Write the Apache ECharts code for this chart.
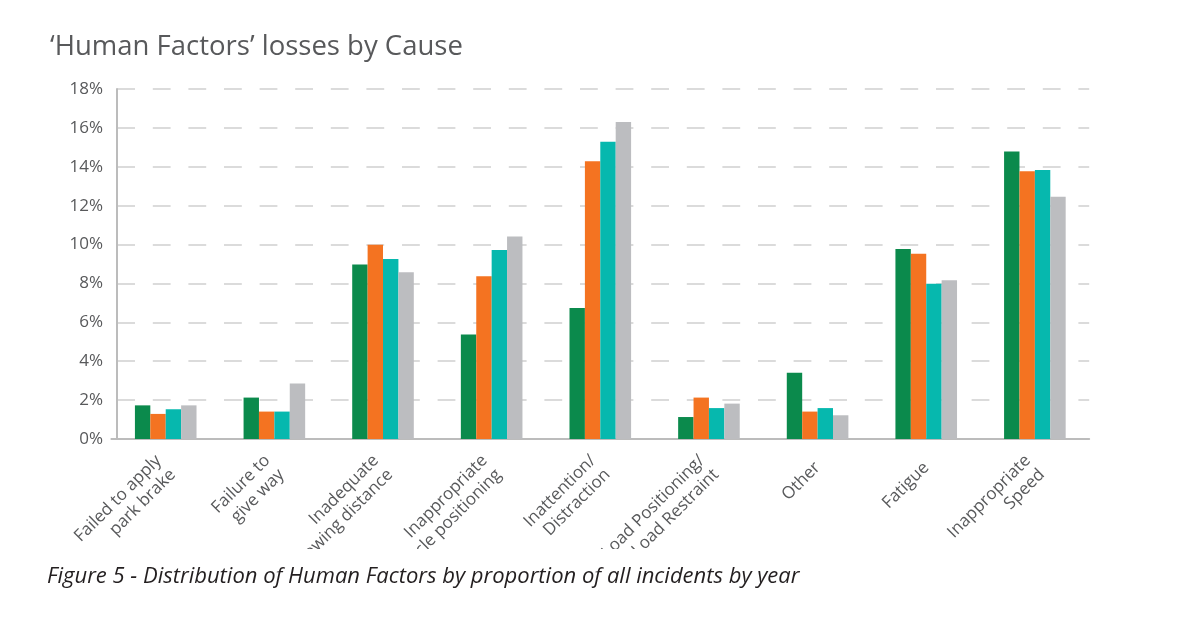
<!DOCTYPE html>
<html>
<head>
<meta charset="utf-8">
<script src="https://cdn.jsdelivr.net/npm/echarts@6/dist/echarts.min.js"></script>
<style>
  html, body { margin: 0; padding: 0; background: #ffffff; }
  #chart { width: 1200px; height: 624px; }
</style>
</head>
<body>
<div id="chart"></div>
<script>
// ---- Data ----
const categories = [
  'Failed to apply\npark brake',
  'Failure to\ngive way',
  'Inadequate\nfollowing distance',
  'Inappropriate\nvehicle positioning',
  'Inattention/\nDistraction',
  'Load Positioning/\nLoad Restraint',
  'Other',
  'Fatigue',
  'Inappropriate\nSpeed'
];
const seriesGreen  = [1.73, 2.13, 8.97, 5.38, 6.74, 1.13, 3.41, 9.77, 14.79];
const seriesOrange = [1.29, 1.41, 9.99, 8.37, 14.28, 2.13, 1.41, 9.53, 13.77];
const seriesTeal   = [1.53, 1.41, 9.26, 9.72, 15.29, 1.59, 1.59, 7.99, 13.83];
const seriesGrey   = [1.73, 2.85, 8.57, 10.42, 16.30, 1.82, 1.22, 8.16, 12.46];
const yTicks = { min: 0, max: 18, interval: 2 };
const chartTitle = '\u2018Human Factors\u2019 losses by Cause';
const caption = 'Figure 5 - Distribution of Human Factors by proportion of all incidents by year';

// ---- Chart ----
const chart = echarts.init(document.getElementById('chart'), null, { renderer: 'canvas' });
const colors = ['#0b8a4c', '#f47321', '#06b8ae', '#bcbdc0'];
const seriesData = [seriesGreen, seriesOrange, seriesTeal, seriesGrey];

chart.setOption({
  animation: false,
  backgroundColor: '#ffffff',
  title: [
    {
      text: chartTitle,
      left: 45,
      top: 28,
      z: 100,
      textStyle: { fontFamily: 'Open Sans', fontSize: 27.5, fontWeight: 'normal', color: '#58595b' }
    },
    {
      text: caption,
      left: 42,
      top: 561,
      z: 100,
      textStyle: { fontFamily: 'Open Sans', fontSize: 22, fontWeight: 'normal', fontStyle: 'italic', color: '#231f20' }
    }
  ],
  // the source figure's label area is cropped just above the caption
  graphic: [{
    type: 'rect',
    z: 50,
    silent: true,
    shape: { x: 0, y: 549, width: 1200, height: 75 },
    style: { fill: '#ffffff' }
  }],
  grid: { left: 111.4, width: 977.8, top: 89, height: 350, containLabel: false },
  xAxis: {
    type: 'category',
    data: categories,
    axisLine: { show: true, lineStyle: { color: '#bcbcbc', width: 2 } },
    axisTick: { show: false },
    axisLabel: {
      rotate: 45,
      interval: 0,
      margin: 26,
      fontFamily: 'Open Sans',
      fontSize: 17,
      lineHeight: 20,
      color: '#58595b'
    },
    splitLine: { show: false }
  },
  yAxis: {
    type: 'value',
    min: yTicks.min,
    max: yTicks.max,
    interval: yTicks.interval,
    offset: -5.6,
    axisLine: { show: true, lineStyle: { color: '#bcbcbc', width: 2 } },
    axisTick: { show: false },
    axisLabel: {
      formatter: '{value}%',
      margin: 14,
      fontFamily: 'Open Sans',
      fontSize: 17,
      color: '#58595b'
    },
    splitLine: {
      show: true,
      lineStyle: { color: '#cfcfcf', width: 1.5, type: [17.8, 17.8], dashOffset: 29.8 }
    }
  },
  series: seriesData.map((d, i) => ({
    type: 'bar',
    data: d,
    barWidth: 15.4,
    barGap: '0%',
    itemStyle: { color: colors[i] },
    emphasis: { disabled: true }
  }))
});
</script>
</body>
</html>
